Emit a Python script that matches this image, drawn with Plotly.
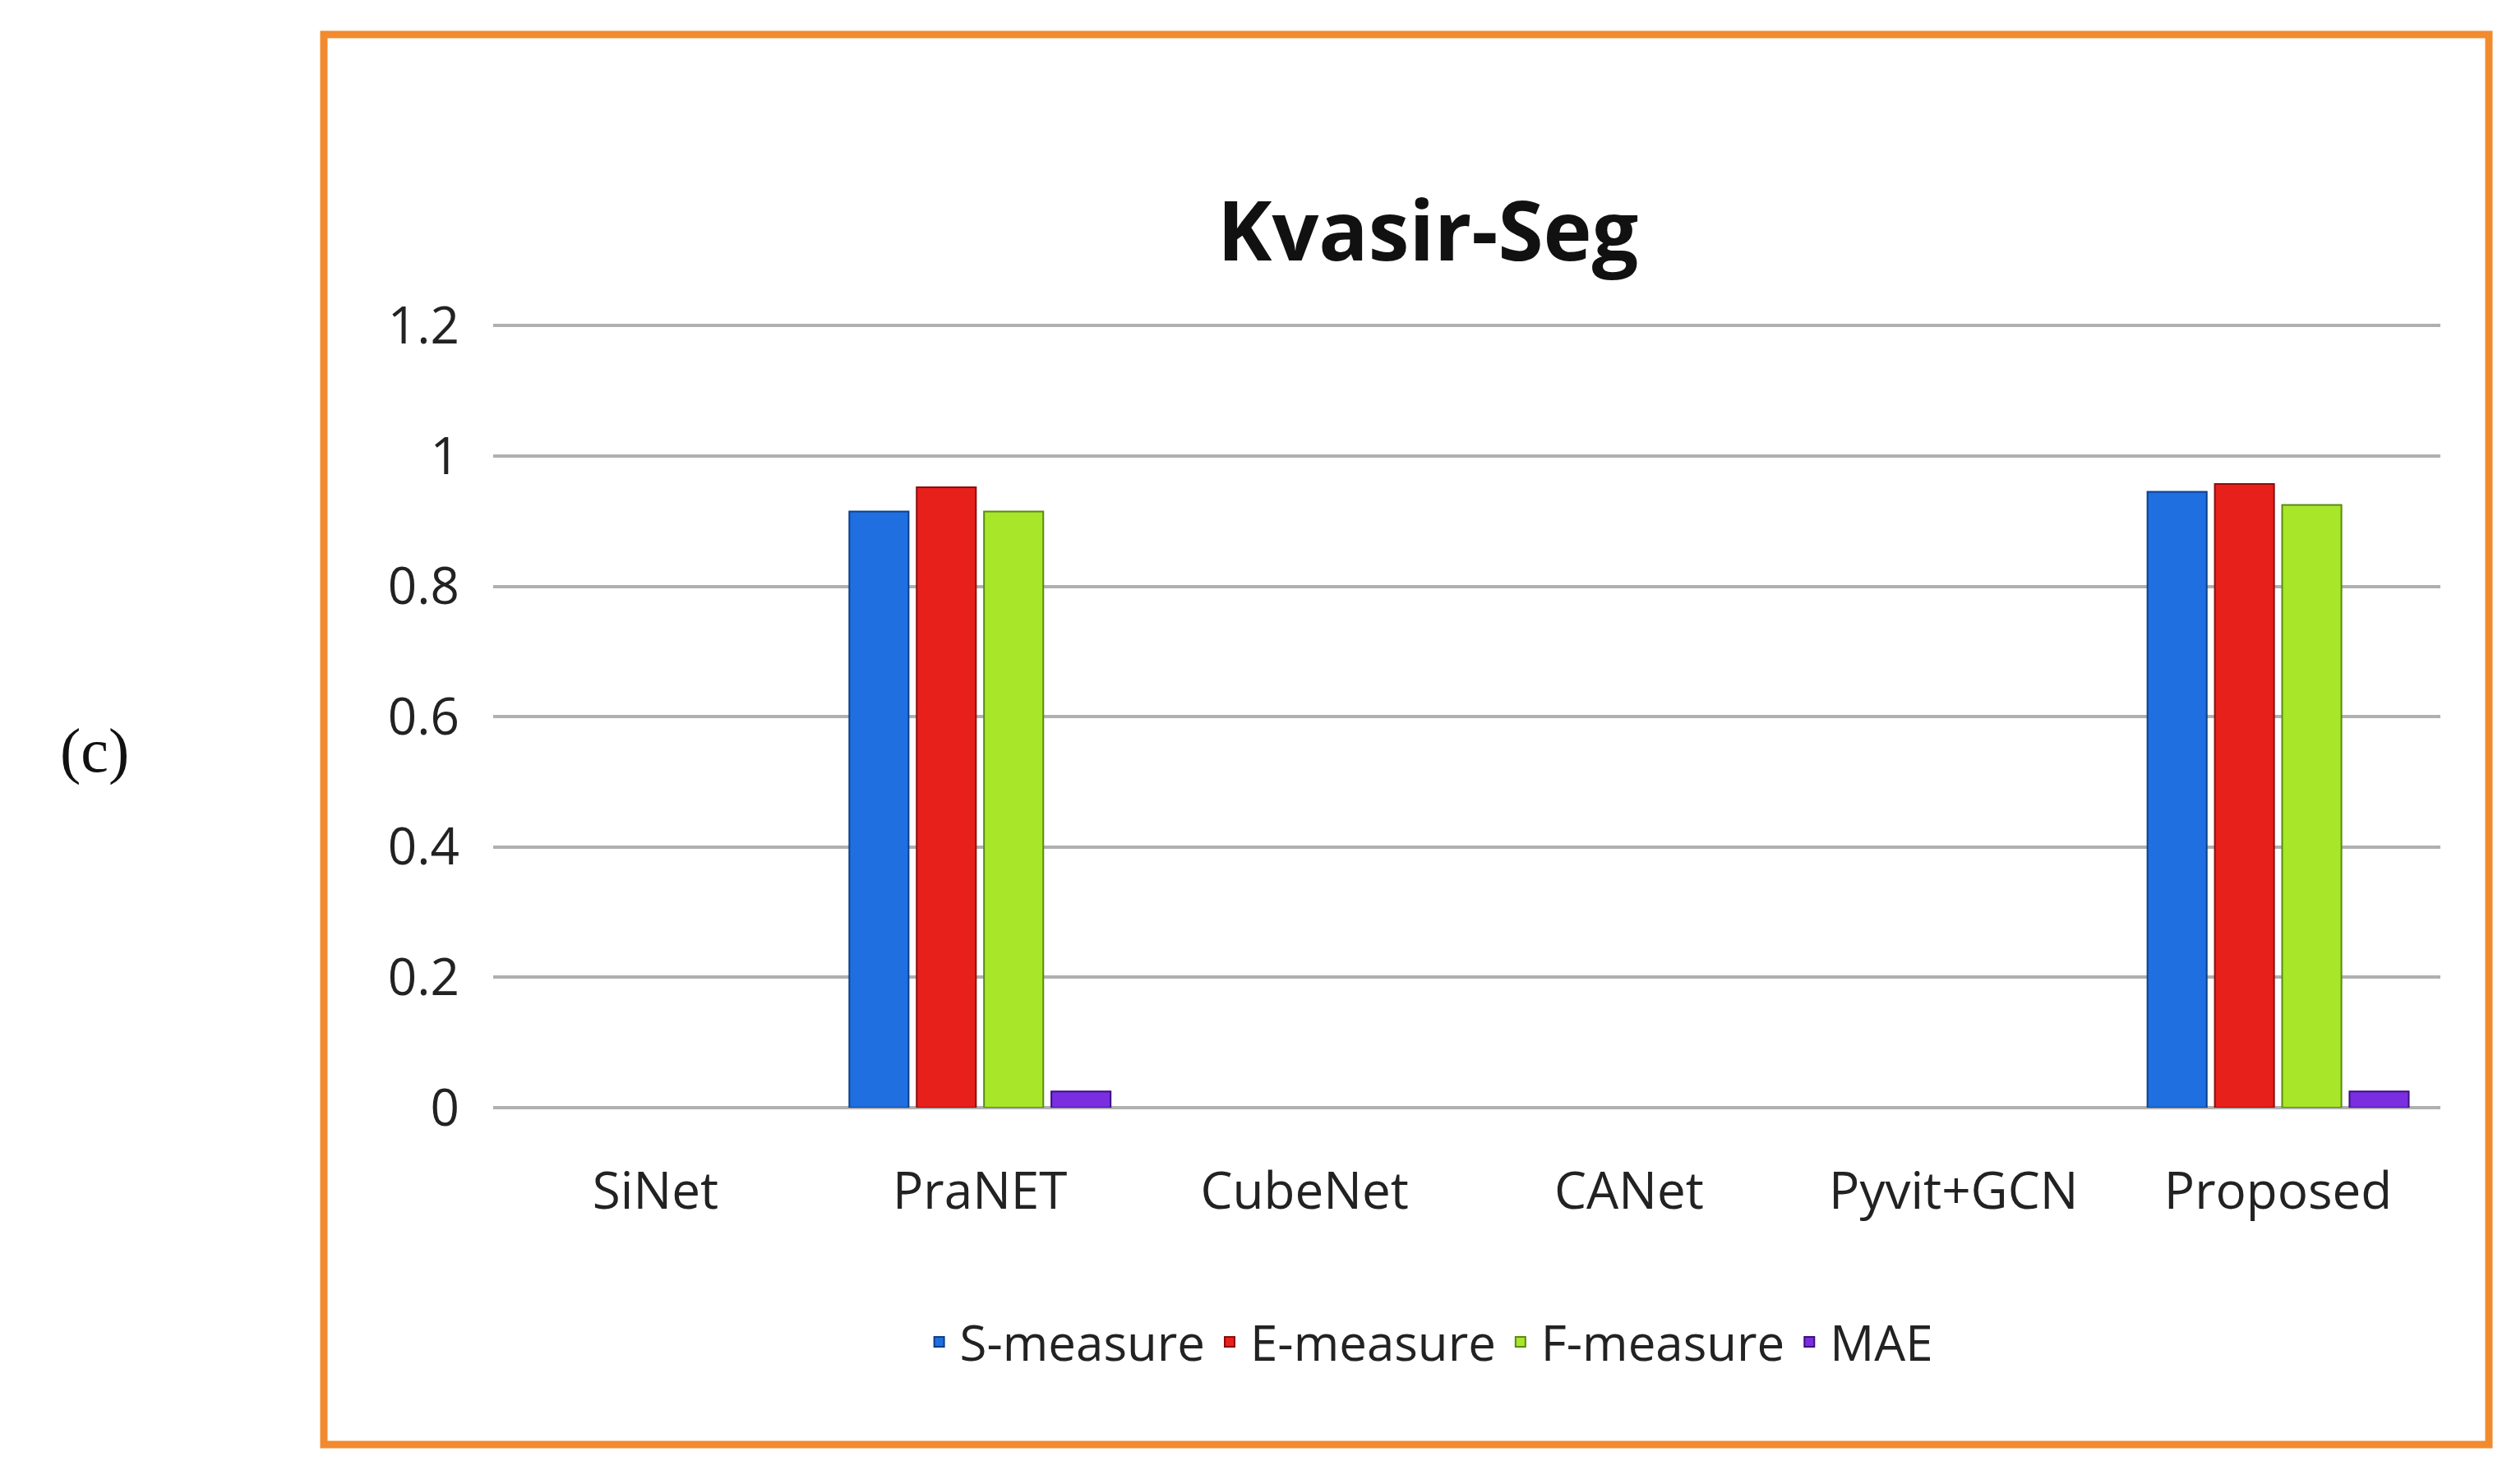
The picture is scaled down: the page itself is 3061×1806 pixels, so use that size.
import plotly.graph_objects as go

categories = ["SiNet", "PraNET", "CubeNet", "CANet", "Pyvit+GCN", "Proposed"]
s_measure = [None, 0.915, None, None, None, 0.945]
e_measure = [None, 0.952, None, None, None, 0.957]
f_measure = [None, 0.915, None, None, None, 0.925]
mae = [None, 0.025, None, None, None, 0.025]

series = [("S-measure", s_measure, "#1f6fe0", "#0d3f8a"),
          ("E-measure", e_measure, "#e8201c", "#8a0d0d"),
          ("F-measure", f_measure, "#a8e62a", "#5a8a10"),
          ("MAE", mae, "#7a2ee0", "#3c1080")]

fig = go.Figure()
for name, vals, c, lc in series:
    fig.add_trace(go.Bar(x=categories, y=vals, name=name, marker=dict(color=c, line=dict(color=lc, width=2))))

W, H = 3061, 1806
l, r, t, b = 592, 100, 386, 466
pw, ph = W - l - r, H - t - b
px = lambda x: (x - l) / pw
py = lambda y: (H - b - y) / ph

fig.add_shape(type="rect", xref="paper", yref="paper", x0=px(386), x1=px(3020), y0=py(34), y1=py(1750),
              line=dict(color="#f28a2e", width=9), layer="below")
fig.add_annotation(text="<b>Kvasir-Seg</b>", xref="paper", yref="paper", x=0.48, y=py(200),
                   showarrow=False, font=dict(size=100, color="#111"))
fig.add_annotation(text="(c)", xref="paper", yref="paper", x=px(63), y=py(905), showarrow=False,
                   font=dict(size=76, family="Liberation Serif", color="#111"))

fig.update_layout(
    width=W, height=H, margin=dict(l=l, r=r, t=t, b=b),
    plot_bgcolor="white", paper_bgcolor="white",
    barmode="group", bargap=0.17, bargroupgap=0.12,
    font=dict(family="Open Sans", size=58, color="#222"),
    legend=dict(orientation="h", x=0.48, xanchor="center", y=py(1625), yanchor="middle",
                font=dict(size=60), itemwidth=40),
    showlegend=True,
)
fig.update_yaxes(range=[0, 1.203], tickvals=[0, 0.2, 0.4, 0.6, 0.8, 1, 1.2],
                 ticktext=["0", "0.2", "0.4", "0.6", "0.8", "1", "1.2"],
                 showgrid=True, gridcolor="#b0b0b0", gridwidth=4, zeroline=True, zerolinecolor="#b0b0b0",
                 zerolinewidth=4, ticks="", ticklabelstandoff=40, tickfont=dict(size=62))
fig.update_xaxes(showline=False, ticks="", tickfont=dict(size=62), ticklabelstandoff=60)
fig.write_html("out.html")
